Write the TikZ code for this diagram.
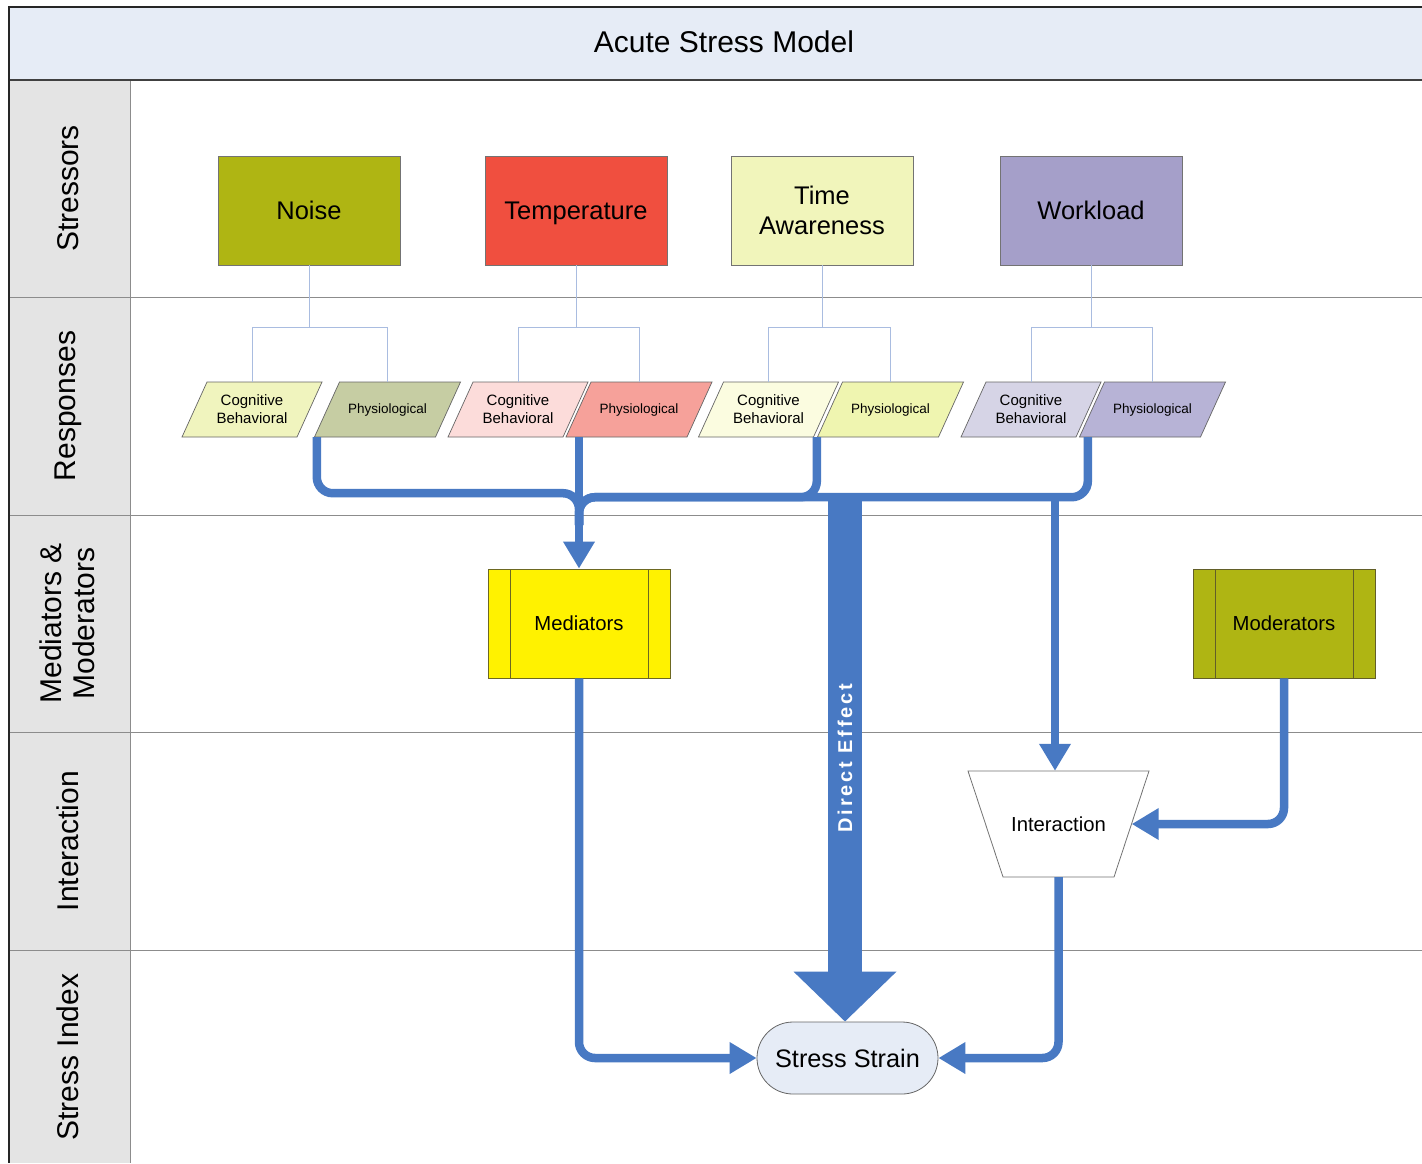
\documentclass[tikz,border=0pt]{standalone}
\usepackage{fontspec}
\setmainfont{Liberation Sans}
\usetikzlibrary{arrows.meta,calc}
\definecolor{flow}{RGB}{72,121,195}
\definecolor{headfill}{RGB}{230,236,246}
\definecolor{lanefill}{RGB}{228,228,228}
\definecolor{lanegray}{RGB}{140,140,140}
\definecolor{treeline}{RGB}{169,188,224}
\definecolor{noisec}{RGB}{175,181,19}
\definecolor{tempc}{RGB}{240,79,63}
\definecolor{timec}{RGB}{241,245,187}
\definecolor{workc}{RGB}{165,159,201}
\definecolor{ncbc}{RGB}{240,244,190}
\definecolor{nphc}{RGB}{198,205,163}
\definecolor{tcbc}{RGB}{252,220,218}
\definecolor{tphc}{RGB}{246,161,154}
\definecolor{acbc}{RGB}{251,252,224}
\definecolor{aphc}{RGB}{239,245,176}
\definecolor{wcbc}{RGB}{214,212,230}
\definecolor{wphc}{RGB}{183,179,214}
\definecolor{ssfill}{RGB}{230,236,246}
\newcommand\mypara[6]{%
  \filldraw[fill=#4, draw=black!60, line width=0.7pt] ({#2-#3-12.5},437) -- ({#2-#3+12.5},382) -- ({#2+#3+12.5},382) -- ({#2+#3-12.5},437) -- cycle;
  \node[minimum width={2*#3}, minimum height=55pt, inner sep=0pt, align=center, font=#5] (#1) at (#2,409.5) {#6};
}
\begin{document}
\begin{tikzpicture}[x=1pt,y=-1pt,
  stressbox/.style={draw=black!55, line width=0.8pt, minimum width=182pt, minimum height=109pt,
    inner sep=0pt, align=center, font=\fontsize{25.5}{30}\selectfont},
  lanelabel/.style={rotate=90, align=center, font=\fontsize{30}{33}\selectfont},
  tree/.style={draw=treeline, line width=1pt},
  flowline/.style={draw=flow, line width=8.5pt, rounded corners=16pt},
  flowarrow/.style={flowline, -{Triangle[width=30pt,length=27pt]}},
  barbox/.style={draw=#1, line width=0.8pt, minimum width=182pt, minimum height=109pt,
    inner sep=0pt, font=\fontsize{20.3}{24}\selectfont,
    path picture={
      \draw[#1, line width=0.8pt] ([xshift=22pt]path picture bounding box.north west) -- ([xshift=22pt]path picture bounding box.south west);
      \draw[#1, line width=0.8pt] ([xshift=-22pt]path picture bounding box.north east) -- ([xshift=-22pt]path picture bounding box.south east);}},
]
\useasboundingbox (0,0) rectangle (1422,1163);
% frame and lanes
\fill[white] (0,0) rectangle (1422,1163);
\fill[headfill] (9,7) rectangle (1422,80);
\fill[lanefill] (9,80) rectangle (130,1163);
\foreach \yy in {297,515,732,950} {\draw[lanegray, line width=1pt] (9,\yy) -- (1422,\yy);}
\draw[lanegray, line width=1pt] (130,80) -- (130,1163);
\draw[black!75, line width=1.2pt] (9,80) -- (1422,80);
\draw[black!85, line width=2pt] (1422,7) -- (9,7) -- (9,1163);
\node[font=\fontsize{30}{36}\selectfont] (title) at (724,42) {Acute Stress Model};
\node[lanelabel] (l1) at (68,188.5) {Stressors};
\node[lanelabel] (l2) at (68,406) {Responses};
\node[lanelabel] (l3) at (67,623.5) {Mediators \&\\Moderators};
\node[lanelabel] (l4) at (68,841) {Interaction};
\node[lanelabel] (l5) at (68,1057) {Stress Index};
% stressors
\node[stressbox, fill=noisec] (noise) at (309,210.5) {Noise};
\node[stressbox, fill=tempc, text depth=0pt] (temp) at (576,210.5) {Temperature};
\node[stressbox, fill=timec] (time) at (822,210.5) {Time\\Awareness};
\node[stressbox, fill=workc] (work) at (1091,210.5) {Workload};
% responses
\mypara{ncb}{252}{57.5}{ncbc}{\fontsize{15}{18}\selectfont}{Cognitive\\Behavioral}
\mypara{nph}{387.5}{60.5}{nphc}{\fontsize{13.5}{16}\selectfont}{Physiological}
\mypara{tcb}{518}{57.5}{tcbc}{\fontsize{15}{18}\selectfont}{Cognitive\\Behavioral}
\mypara{tph}{639}{60.5}{tphc}{\fontsize{13.5}{16}\selectfont}{Physiological}
\mypara{acb}{768.5}{57.5}{acbc}{\fontsize{15}{18}\selectfont}{Cognitive\\Behavioral}
\mypara{aph}{890.5}{60.5}{aphc}{\fontsize{13.5}{16}\selectfont}{Physiological}
\mypara{wcb}{1031}{57.5}{wcbc}{\fontsize{15}{18}\selectfont}{Cognitive\\Behavioral}
\mypara{wph}{1152.5}{60.5}{wphc}{\fontsize{13.5}{16}\selectfont}{Physiological}
% tree connectors
\foreach \s/\a/\b in {noise/ncb/nph, temp/tcb/tph, time/acb/aph, work/wcb/wph} {
  \draw[tree] (\s.south) -- ++(0,62) -| (\a.north);
  \draw[tree] (\s.south) -- ++(0,62) -| (\b.north);
}
% mediators / moderators
\node[barbox=olive!70!black, fill=yellow] (med) at (579,623.5) {Mediators};
\node[barbox=olive!60!black, fill=noisec] (mod) at (1284,623.5) {Moderators};
% interaction
\filldraw[fill=white, draw=black!55, line width=0.8pt] (968,771) -- (1149,771) -- (1114,877) -- (1003,877) -- cycle;
\node[minimum width=181pt, minimum height=106pt, inner sep=0pt, font=\fontsize{20.3}{24}\selectfont] (inter) at (1058.5,824) {Interaction};
% stress strain
\node[draw=black!60, line width=0.8pt, fill=ssfill, rounded corners=36pt, minimum width=181pt,
  minimum height=72pt, inner sep=0pt, font=\fontsize{25.3}{30}\selectfont] (ss) at (847.5,1058) {Stress Strain};
% bus coordinates
\coordinate (busM) at (579,525);
\coordinate (busD) at (845,495);
\coordinate (busI) at (1055,497);
\coordinate (interR) at ([xshift=-17.5pt]inter.east);
% flows into mediators
\draw[flowline] ([xshift=-10pt]nph.south west) -- ++(0,56) -| (busM);
\draw[flowline] ([xshift=-13pt]aph.south west) -- ++(0,60) -| (busM);
\draw[flowline] ([xshift=-4pt]wph.south west) -- ++(0,60) -| (busM);
\draw[flowarrow] (med.north |- tph.south) -- (med.north);
% branch to interaction
\draw[flowarrow] (busI) -- (busI |- inter.north);
% direct effect
\draw[draw=flow, line width=34pt, -{Triangle[width=100pt,length=50pt]}] (busD) -- (busD |- ss.north);
\node[rotate=90, text=white, font=\fontsize{20}{22}\selectfont\bfseries\addfontfeature{LetterSpace=14}] (de) at (845,758) {Direct Effect};
% to stress strain
\draw[flowarrow] (med.south) |- (ss.west);
\draw[flowarrow] (inter.south) |- (ss.east);
\draw[flowarrow] (mod.south) |- (interR);
\end{tikzpicture}
\end{document}
